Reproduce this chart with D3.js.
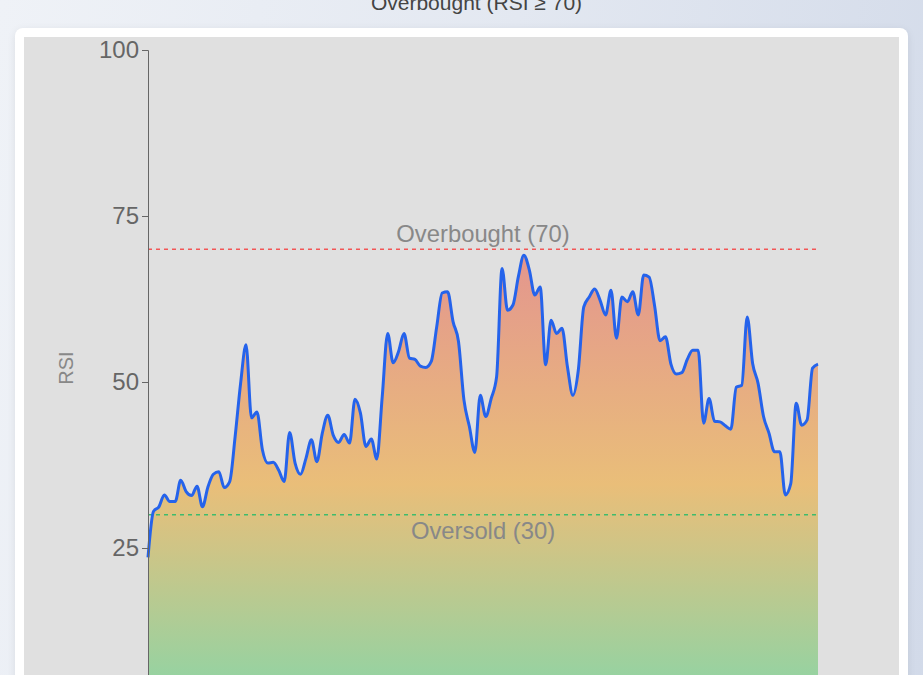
<!DOCTYPE html>
<html>
<head>
<meta charset="utf-8">
<script src="https://cdn.jsdelivr.net/npm/d3@7"></script>
<style>
  body {
    margin: 0;
    width: 923px;
    height: 675px;
    overflow: hidden;
    position: relative;
    font-family: "Liberation Sans", Arial, sans-serif;
    background: linear-gradient(100deg, #eff2f7 0%, #e3e8f1 50%, #d2dae9 100%);
  }
  #title {
    position: absolute;
    top: -9px;
    left: 15px;
    width: 923px;
    text-align: center;
    font-size: 21px;
    color: #444;
  }
  #card {
    position: absolute;
    left: 15px;
    top: 28px;
    width: 893px;
    height: 720px;
    background: #fff;
    border-radius: 8px;
    box-shadow: 0 2px 8px rgba(0, 0, 0, 0.08);
  }
  #svg {
    position: absolute;
    left: 9px;
    top: 9px;
    background: #e0e0e0;
  }
</style>
</head>
<body>
<div id="title">Overbought (RSI ≥ 70)</div>
<div id="card"><svg id="svg"></svg></div>
<script>
const width = 875;
const height = 740;
const margin = { top: 13, right: 81, bottom: 63, left: 124 };

// RSI readings, one per trading day
const rsiValues = [
  23.6, 30.5, 31.2, 33.0, 32.0, 32.0, 35.2, 33.5, 32.9, 34.3,
  31.2, 34.2, 36.1, 36.5, 34.1, 35.0, 41.8, 49.8, 55.6, 44.6,
  45.5, 39.8, 37.8, 37.9, 36.7, 35.0, 42.4, 37.8, 36.1, 38.5,
  41.3, 38.0, 42.3, 45.0, 42.0, 40.9, 42.1, 40.8, 47.4, 45.3,
  40.3, 41.4, 38.4, 47.8, 57.3, 52.9, 54.6, 57.3, 53.6, 53.4,
  52.4, 52.2, 53.1, 58.3, 63.4, 63.6, 59.1, 56.1, 47.3, 43.3,
  39.4, 48.0, 44.8, 47.5, 50.8, 67.1, 60.8, 61.6, 65.9, 69.1,
  66.9, 63.1, 64.3, 52.6, 59.3, 57.3, 58.1, 52.3, 48.0, 51.8,
  61.3, 62.8, 64.0, 62.3, 60.1, 63.8, 56.6, 62.8, 62.1, 63.6,
  60.1, 66.1, 65.8, 61.5, 56.2, 56.8, 52.7, 51.2, 51.4, 53.4,
  54.8, 54.8, 43.8, 47.5, 44.1, 44.0, 43.4, 42.9, 49.2, 49.5,
  59.8, 52.8, 49.8, 44.8, 42.3, 39.5, 39.5, 33.0, 34.7, 46.8,
  43.5, 44.3, 52.1, 52.7,
];
const yTicks = [25, 50, 75, 100];
const levels = [
  { value: 70, label: "Overbought (70)", color: "#f25656", dy: -7 },
  { value: 30, label: "Oversold (30)", color: "#3dbb6c", dy: 24 },
];

let svg = d3.select("#svg").attr("width", width).attr("height", height);

const x = d3
  .scaleLinear()
  .domain([0, rsiValues.length - 1])
  .range([margin.left, width - margin.right]);

const y = d3
  .scaleLinear()
  .domain([0, 100])
  .range([height - margin.bottom, margin.top]);

// vertical gradient over the filled area: red on top, orange, then green
let grad = svg
  .append("defs")
  .append("linearGradient")
  .attr("id", "rsiFill")
  .attr("x1", 0)
  .attr("y1", 0)
  .attr("x2", 0)
  .attr("y2", 1);
grad
  .selectAll("stop")
  .data([
    { offset: "0%", color: "#e74c3c" },
    { offset: "50%", color: "#f39c12" },
    { offset: "100%", color: "#2ecc71" },
  ])
  .enter()
  .append("stop")
  .attr("offset", (d) => d.offset)
  .attr("stop-color", (d) => d.color)
  .attr("stop-opacity", 0.5);

const area = d3
  .area()
  .x((d, i) => x(i))
  .y0(y(0))
  .y1((d) => y(d))
  .curve(d3.curveMonotoneX);

const line = d3
  .line()
  .x((d, i) => x(i))
  .y((d) => y(d))
  .curve(d3.curveMonotoneX);

svg
  .append("path")
  .datum(rsiValues)
  .attr("fill", "url(#rsiFill)")
  .attr("d", area);

// overbought / oversold reference lines
let lv = svg.append("g").selectAll("g").data(levels).enter().append("g");
lv.append("line")
  .attr("x1", x.range()[0])
  .attr("x2", x.range()[1])
  .attr("y1", (d) => y(d.value))
  .attr("y2", (d) => y(d.value))
  .attr("stroke", (d) => d.color)
  .attr("stroke-width", 1.5)
  .attr("stroke-dasharray", "4,4");
lv.append("text")
  .attr("x", (x.range()[0] + x.range()[1]) / 2)
  .attr("y", (d) => y(d.value) + d.dy)
  .attr("text-anchor", "middle")
  .attr("font-size", 23.8)
  .attr("fill", "#888")
  .text((d) => d.label);

svg
  .append("path")
  .datum(rsiValues)
  .attr("fill", "none")
  .attr("stroke", "#2563eb")
  .attr("stroke-width", 3)
  .attr("stroke-linejoin", "round")
  .attr("d", line);

// y axis
let yAxis = svg
  .append("g")
  .attr("transform", `translate(${margin.left},0)`)
  .call(d3.axisLeft(y).tickValues(yTicks).tickSizeOuter(6));
yAxis.select(".domain").attr("stroke", "#666");
yAxis.selectAll(".tick line").attr("stroke", "#666");
yAxis
  .selectAll(".tick text")
  .attr("font-size", 24)
  .attr("font-family", "Liberation Sans, Arial, sans-serif")
  .attr("fill", "#666");

svg
  .append("text")
  .attr("transform", `translate(${margin.left - 75},${y(50) - 14}) rotate(-90)`)
  .attr("text-anchor", "middle")
  .attr("font-size", 20)
  .attr("fill", "#888")
  .text("RSI");
</script>
</body>
</html>
